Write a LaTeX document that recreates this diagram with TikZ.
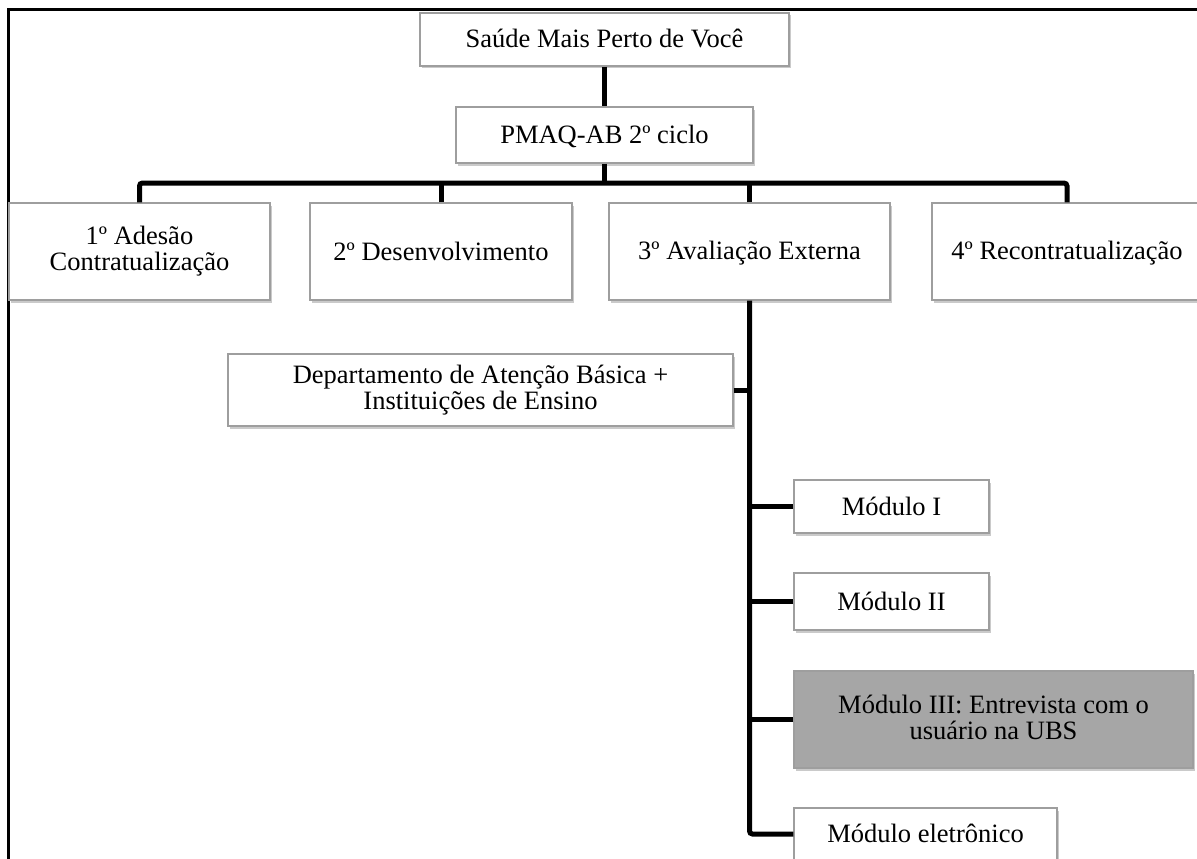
\documentclass[tikz,border=0pt]{standalone}
\usepackage{fontspec}
\setmainfont{Liberation Serif}
\usetikzlibrary{shadows}
\newcommand{\mystrut}{\rule[-4pt]{0pt}{25pt}}
\begin{document}
\begin{tikzpicture}[x=1pt,y=-1pt,
  box/.style={draw=black!38, line width=1.2pt, fill=white, rectangle, inner sep=0pt,
    align=center, font=\fontsize{26.5}{26}\selectfont,
    execute at begin node=\mystrut, execute at end node=\mystrut,
    drop shadow={shadow xshift=2pt, shadow yshift=-2.5pt, opacity=0.35, fill=black!60}},
  darkbox/.style={box, fill=black!35},
  conn/.style={draw=black, line width=5pt, rounded corners=3pt},
  frame/.style={draw=black, line width=3pt}]
\useasboundingbox (0,0) rectangle (1197,859);
\clip (0,0) rectangle (1197,859);
\draw[frame] (8,870) -- (8,10) -- (1210,10);

\node[box, minimum width=369pt, minimum height=53pt] (saude) at (604.5,39.5) {Saúde Mais Perto de Você};
\node[box, minimum width=297pt, minimum height=56pt] (pmaq) at (604.5,135) {PMAQ-AB 2º ciclo};
\coordinate (bar) at (604.5,183);

\node[box, minimum width=261pt, minimum height=97pt] (b1) at (139.5,251.5) {1º Adesão\\Contratualização};
\node[box, minimum width=262pt, minimum height=97pt] (b2) at (441,251.5) {2º Desenvolvimento};
\node[box, minimum width=281pt, minimum height=97pt] (b3) at (749.5,251.5) {3º Avaliação Externa};
\node[box, minimum width=270pt, minimum height=97pt] (b4) at (1067,251.5) {4º Recontratualização};

\node[box, minimum width=505pt, minimum height=72pt] (dept) at (480.5,390) {Departamento de Atenção Básica +\\Instituições de Ensino};
\node[box, minimum width=195pt, minimum height=53pt] (m1) at (891.5,506.5) {Módulo I};
\node[box, minimum width=195pt, minimum height=57pt] (m2) at (891.5,601.5) {Módulo II};
\node[darkbox, minimum width=399pt, minimum height=97pt] (m3) at (993.5,719.5) {Módulo III: Entrevista com o\\usuário na UBS};
\node[box, minimum width=263pt, minimum height=52pt] (mE) at (925.5,834) {Módulo eletrônico};

\draw[conn] (saude.south) -- (pmaq.north);
\draw[conn] (pmaq.south) -- (bar);
\draw[conn] (b1.north) |- (bar) -| (b4.north);
\draw[conn] (b2.north) -- (b2.north |- bar);
\draw[conn] (b3.north) -- (b3.north |- bar);
\draw[conn] (b3.south) |- (mE.west);
\draw[conn] (dept.east) -- (dept.east -| b3.south);
\draw[conn] (m1.west) -- (m1.west -| b3.south);
\draw[conn] (m2.west) -- (m2.west -| b3.south);
\draw[conn] (m3.west) -- (m3.west -| b3.south);
\end{tikzpicture}
\end{document}
